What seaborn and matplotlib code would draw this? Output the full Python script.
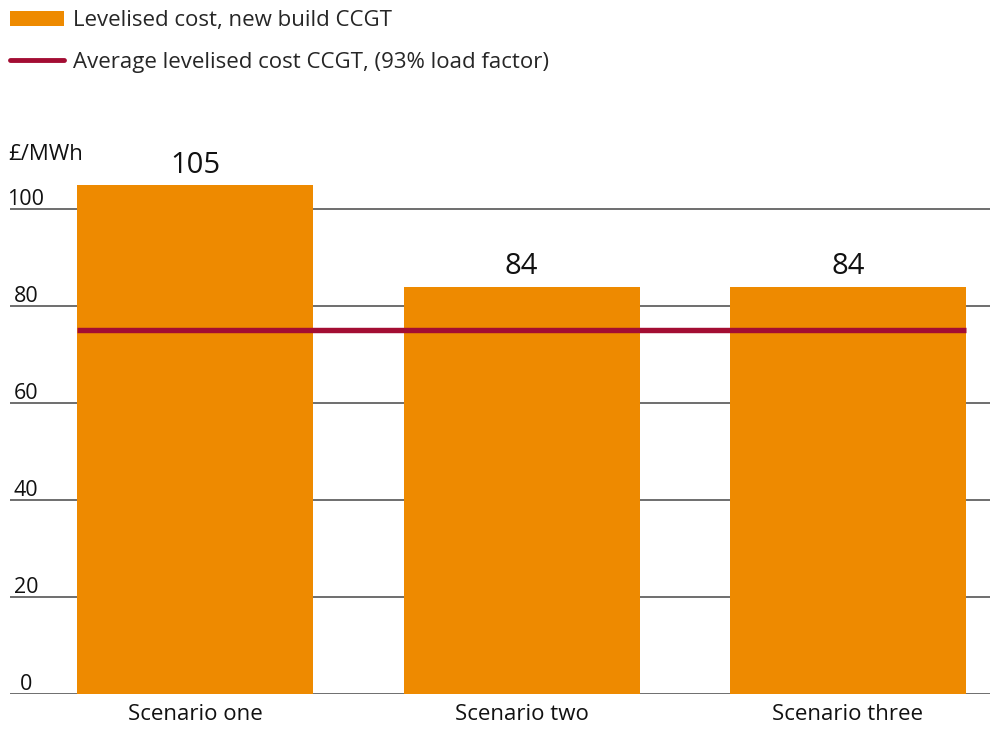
import seaborn as sns
import matplotlib.pyplot as plt
import matplotlib.transforms as mtransforms
from matplotlib.patches import Patch
from matplotlib.lines import Line2D
import pandas as pd

scenarios = ["Scenario one", "Scenario two", "Scenario three"]
new_build_cost = [105, 84, 84]
average_cost = 75
y_ticks = [0, 20, 40, 60, 80, 100]

ORANGE = "#EE8A00"
RED = "#A30D33"

if __name__ == "__main__":
    sns.set_style("white")
    plt.rcParams["font.family"] = ["Open Sans", "DejaVu Sans"]

    df = pd.DataFrame({"Scenario": scenarios, "Cost": new_build_cost})

    fig = plt.figure(figsize=(9.99, 7.29), dpi=100)
    ax = fig.add_axes([10 / 999, 1 - 694 / 729, 980 / 999, (694 - 160) / 729])

    width = 0.723
    sns.barplot(x="Scenario", y="Cost", data=df, color=ORANGE, width=width,
                saturation=1, linewidth=0, ax=ax, zorder=2)

    # average levelised cost line across the bars
    ax.hlines(average_cost, -width / 2, 2 + width / 2, color=RED, lw=3.9, zorder=3)

    ax.set_xlim(-0.567, 2.435)
    ax.set_ylim(0, (694 - 160) / 4.85)

    for y in y_ticks:
        ax.axhline(y, color="#555555", lw=1.2, zorder=1)
    ax.set_yticks([])
    trans = mtransforms.blended_transform_factory(ax.transAxes, ax.transData)
    for y in y_ticks:
        ax.text(16 / 980, y + 0.9, str(y), transform=trans, ha="center",
                va="baseline", fontsize=15.5, color="#111111")

    ax.text(-2 / 980, 110.0, "£/MWh", transform=trans, ha="left", va="baseline",
            fontsize=16, color="#111111")

    for i, v in enumerate(new_build_cost):
        ax.text(i, v + 2.5, str(v), ha="center", va="baseline", fontsize=21,
                color="#111111")

    ax.set_xlabel("")
    ax.set_ylabel("")
    ax.tick_params(axis="x", length=0, labelsize=16, pad=7, colors="#111111")
    sns.despine(ax=ax, left=True, bottom=True)

    handles = [Patch(facecolor=ORANGE, edgecolor="none"),
               Line2D([0], [0], color=RED, lw=3.5)]
    labels = ["Levelised cost, new build CCGT",
              "Average levelised cost CCGT, (93% load factor)"]
    fig.legend(handles, labels, loc="upper left", bbox_to_anchor=(0.0, 1.0),
               frameon=False, fontsize=16, handlelength=2.43, handleheight=0.72,
               handletextpad=0.4, labelspacing=0.95, borderaxespad=0,
               borderpad=0.46)

    plt.savefig("out.png", dpi=100)
